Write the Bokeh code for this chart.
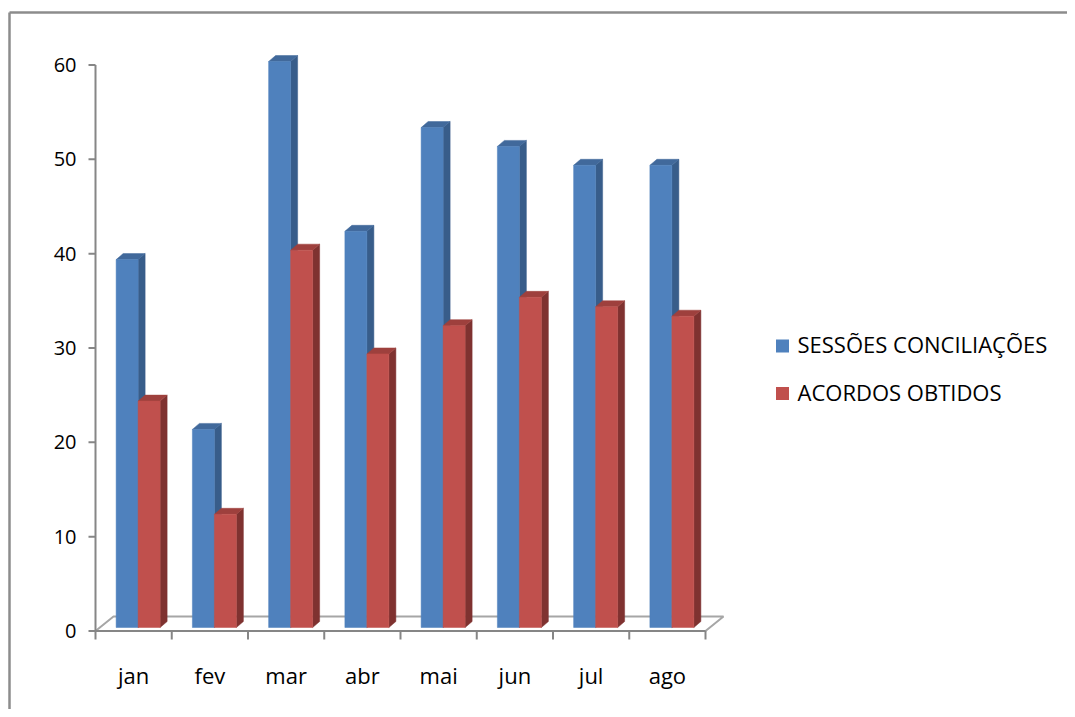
import numpy as np
from bokeh.plotting import figure
from bokeh.models import Range1d
from bokeh.core.properties import value
from bokeh.embed import file_html
from bokeh.resources import INLINE

# ---------------- data ----------------
months = ["jan", "fev", "mar", "abr", "mai", "jun", "jul", "ago"]
sessoes = [39, 21, 60, 42, 53, 51, 49, 49]
acordos = [24, 12, 40, 29, 32, 35, 34, 33]
series_names = ["SESSÕES CONCILIAÇÕES", "ACORDOS OBTIDOS"]
y_ticks = [0, 10, 20, 30, 40, 50, 60]

# ---------------- layout constants (pixels) ----------------
W, H = 1067, 709
X0, PX = 95.0, 76.25      # canvas x of category axis origin, px per category
Y0, PY = 630.5, 9.433     # canvas y of value 0, px per unit

FONT = "Open Sans"
AXIS_GRAY = "#868686"
FRAME_GRAY = "#8C8C8C"
BLUE, BLUE_SIDE, BLUE_TOP = "#4F81BD", "#385D8A", "#41699B"
RED, RED_SIDE, RED_TOP = "#C0504D", "#7F3230", "#9E403D"


def fx(cx):
    return (cx - X0) / PX


def fy(cy):
    return (Y0 - cy) / PY


def ux(px):
    return px / PX


def uy(px):
    return px / PY


p = figure(width=W, height=H, output_backend="svg", toolbar_location=None,
           x_range=Range1d(-X0 / PX, (W - X0) / PX),
           y_range=Range1d((Y0 - H) / PY, Y0 / PY),
           min_border=0, min_border_left=0, min_border_right=0,
           min_border_top=0, min_border_bottom=0,
           x_axis_location=None, y_axis_location=None,
           background_fill_color="white", border_fill_color="white")
p.grid.visible = False
p.outline_line_color = None

# outer frame (left + top)
p.segment(x0=[fx(9), fx(9)], y0=[fy(12), fy(12)], x1=[fx(9), fx(1100)], y1=[fy(760), fy(12)],
          line_color=FRAME_GRAY, line_width=2.5)

n = len(months)
# floor
fdx, fdy = ux(18), uy(14.5)
p.patch(x=[0, n, n + fdx, fdx], y=[0, 0, fdy, fdy],
        fill_color="white", line_color="#A6A6A6", line_width=2)

# value axis
p.segment(x0=[0], y0=[0], x1=[0], y1=[max(y_ticks)], line_color=AXIS_GRAY, line_width=2)
p.segment(x0=[0] * len(y_ticks), y0=y_ticks, x1=[-ux(7)] * len(y_ticks), y1=y_ticks,
          line_color=AXIS_GRAY, line_width=2)
# category axis (front edge) + ticks
p.segment(x0=[0], y0=[0], x1=[n], y1=[0], line_color=AXIS_GRAY, line_width=2)
bx = list(range(n + 1))
p.segment(x0=bx, y0=[0] * len(bx), x1=bx, y1=[-uy(8.5)] * len(bx),
          line_color=AXIS_GRAY, line_width=2)

# 3D bars
bw = ux(22)
sx, sy = ux(4.5), uy(3.5)      # bar depth position
dx, dy = ux(7), uy(6)          # bar depth


def bars(vals, offset, cf, cs, ct):
    fronts_x, fronts_y, sides_x, sides_y, tops_x, tops_y = [], [], [], [], [], []
    for i, v in enumerate(vals):
        c = i + 0.5
        L = c + offset + sx
        R = L + bw
        b = sy
        t = v + sy
        fronts_x.append([L, R, R, L]); fronts_y.append([b, b, t, t])
        sides_x.append([R, R + dx, R + dx, R]); sides_y.append([b, b + dy, t + dy, t])
        tops_x.append([L, R, R + dx, L + dx]); tops_y.append([t, t, t + dy, t + dy])
    p.patches(xs=sides_x, ys=sides_y, fill_color=cs, line_color=cs, line_width=0.5)
    p.patches(xs=tops_x, ys=tops_y, fill_color=ct, line_color=ct, line_width=0.5)
    p.patches(xs=fronts_x, ys=fronts_y, fill_color=cf, line_color=cf, line_width=0.5)


bars(sessoes, -bw, BLUE, BLUE_SIDE, BLUE_TOP)
bars(acordos, 0.0, RED, RED_SIDE, RED_TOP)

# tick labels
p.text(x=[-ux(19)] * len(y_ticks), y=y_ticks, text=[str(t) for t in y_ticks],
       text_font=value(FONT), text_font_size="20px", text_color="black",
       text_align="right", text_baseline="middle")
p.text(x=[i + 0.5 for i in range(n)], y=[fy(674)] * n, text=months,
       text_font=value(FONT), text_font_size="22px", text_color="black",
       text_align="center", text_baseline="middle")

# legend
p.scatter(x=[fx(782)] * 2, y=[fy(345.5), fy(393)], marker="square", size=13,
          fill_color=[BLUE, RED], line_color=None)
p.text(x=[fx(797)] * 2, y=[fy(343.5), fy(391)], text=series_names,
       text_font=value(FONT), text_font_size="22px", text_color="black",
       text_align="left", text_baseline="middle")

open("out.html", "w").write(file_html(p, INLINE))
